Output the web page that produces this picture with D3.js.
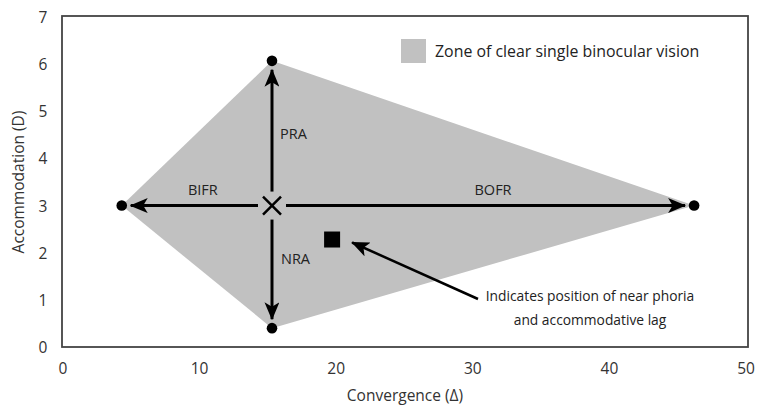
<!DOCTYPE html>
<html><head><meta charset="utf-8">
<script src="https://cdn.jsdelivr.net/npm/d3@7"></script>
<style>body{margin:0;background:#fff}svg{display:block}text{font-family:"Open Sans",sans-serif}</style>
</head><body><svg id="c" width="758" height="408"></svg>
<script>
const xTicks=[0,10,20,30,40,50];
const yTicks=[0,1,2,3,4,5,6,7];
const center=[15.3,3];
const zoneX=[4.3,15.3,46.2,15.3];
const zoneY=[3,6.07,3,0.4];
const arrowLabels=["BIFR","PRA","BOFR","NRA"];
const phoria=[19.7,2.28];
const legendLabel="Zone of clear single binocular vision";
const noteLines=["Indicates position of near phoria","and accommodative lag"];

const svg=d3.select("#c");
const x=d3.scaleLinear().domain([0,50]).range([63,746]);
const y=d3.scaleLinear().domain([0,7]).range([347,17]);

const mk=svg.append("defs").append("marker").attr("id","ah2").attr("viewBox","0 0 18 15").attr("refX",17).attr("refY",7.5)
 .attr("markerWidth",18).attr("markerHeight",15).attr("markerUnits","userSpaceOnUse").attr("orient","auto");
mk.append("path").attr("d","M0,0 L18,7.5 L0,15 L4.5,7.5 Z").attr("fill","#000");

const pts=zoneX.map((v,i)=>[x(v),y(zoneY[i])]);
svg.append("polygon").attr("points",pts.map(p=>p.join(",")).join(" ")).attr("fill","#c1c1c1");

// arrows
const cx=x(center[0]), cy=y(center[1]);
const gapStart=14, gapEnd=9;
pts.forEach((p,i)=>{
  const dx=p[0]-cx, dy=p[1]-cy, L=Math.hypot(dx,dy), ux=dx/L, uy=dy/L;
  svg.append("line").attr("x1",cx+ux*gapStart).attr("y1",cy+uy*gapStart)
   .attr("x2",p[0]-ux*gapEnd).attr("y2",p[1]-uy*gapEnd)
   .attr("stroke","#000").attr("stroke-width",3).attr("marker-end","url(#ah2)");
});
// dots
svg.selectAll("circle.d").data(pts).join("circle").attr("cx",d=>d[0]).attr("cy",d=>d[1]).attr("r",5.3).attr("fill","#000");
// cross
const cs=9;
svg.append("path").attr("d",`M${cx-cs},${cy-cs}L${cx+cs},${cy+cs}M${cx-cs},${cy+cs}L${cx+cs},${cy-cs}`).attr("stroke","#000").attr("stroke-width",2.5);
// labels
const lab=[[ (x(zoneX[0])+cx)/2+6, cy-11,"middle"],[cx+8,(y(zoneY[1])+cy)/2+6,"start"],[(x(zoneX[2])+cx)/2+10,cy-11,"middle"],[cx+9,(y(zoneY[3])+cy)/2-3,"start"]];
lab.forEach((l,i)=>svg.append("text").attr("x",l[0]).attr("y",l[1]).attr("text-anchor",l[2]).attr("font-size",14.5).attr("fill","#222").text(arrowLabels[i]));
// phoria square
svg.append("rect").attr("x",x(phoria[0])-8).attr("y",y(phoria[1])-8).attr("width",16).attr("height",16).attr("fill","#000");
// note arrow
svg.append("line").attr("x1",478).attr("y1",299).attr("x2",x(phoria[0])+20).attr("y2",y(phoria[1])+3)
 .attr("stroke","#000").attr("stroke-width",2.5).attr("marker-end","url(#ah2)");
noteLines.forEach((t,i)=>svg.append("text").attr("x",590).attr("y",301+i*24).attr("text-anchor","middle").attr("font-size",13.8).attr("fill","#222").text(t));
// legend
svg.append("rect").attr("x",401).attr("y",39).attr("width",25).attr("height",24).attr("fill","#c1c1c1");
svg.append("text").attr("x",435).attr("y",57).attr("font-size",15.9).attr("fill","#222").text(legendLabel);

// frame
svg.append("rect").attr("x",62).attr("y",16).attr("width",686).attr("height",331).attr("fill","none").attr("stroke","#444").attr("stroke-width",1.8);
// axes ticks labels
svg.selectAll("text.xt").data(xTicks).join("text").attr("x",d=>x(d)).attr("y",374).attr("text-anchor","middle").attr("font-size",15.5).attr("fill","#333").text(d=>d);
svg.selectAll("text.yt").data(yTicks).join("text").attr("x",43).attr("y",d=>y(d)+6).attr("text-anchor","middle").attr("font-size",15.5).attr("fill","#333").text(d=>d);
svg.append("text").attr("x",405).attr("y",401).attr("text-anchor","middle").attr("font-size",15.5).attr("fill","#333").text("Convergence (Δ)");
svg.append("text").attr("transform","translate(24,182) rotate(-90)").attr("text-anchor","middle").attr("font-size",15.5).attr("fill","#333").text("Accommodation (D)");
</script></body></html>
